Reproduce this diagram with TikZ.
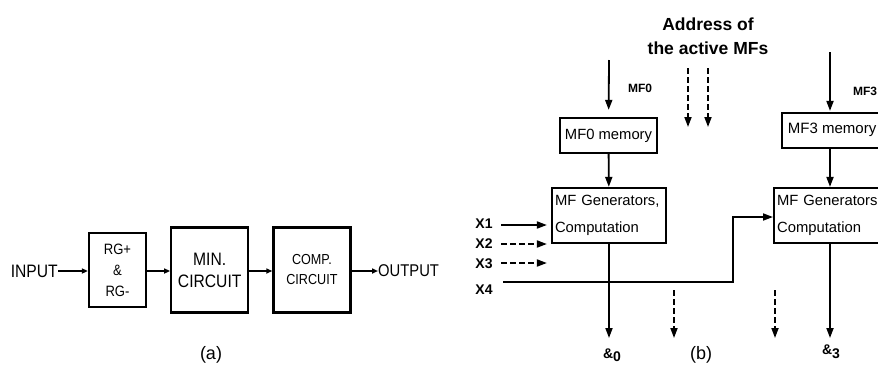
\documentclass[tikz,border=0pt]{standalone}
\usepackage{fontspec}
\setmainfont{Liberation Sans}
\newfontfamily\narrowsf[FakeStretch=0.87]{Liberation Sans}
\usetikzlibrary{arrows.meta,positioning}

\begin{document}
\begin{tikzpicture}[
    x=1pt, y=-1pt,
    node distance=23pt,
    blk/.style={draw, line width=2.2pt, align=center, inner sep=0pt},
    arr/.style={-{Triangle[length=6pt,width=5pt]}, line width=1.8pt},
    bigarr/.style={-{Triangle[length=10pt,width=7pt]}, line width=1.8pt},
    dasharr/.style={bigarr, dashed, dash pattern=on 6pt off 3pt},
    lbl/.style={font=\fontsize{12}{14}\selectfont\bfseries, inner sep=0pt},
    xlbl/.style={font=\fontsize{14}{15}\selectfont\bfseries, inner sep=0pt},
    gen/.style={blk, align=left, text width=108pt, inner xsep=3pt,
      minimum height=55pt, font=\fontsize{14.8}{27}\selectfont}
  ]
    \useasboundingbox (0,0) rectangle (878,381);
    \clip (0,0) rectangle (878,381);

    % (a)
    \node[inner sep=0pt, anchor=east, font=\fontsize{18}{18}\narrowsf] (input) at (58,271) {INPUT};
    \node[blk, minimum width=57pt, minimum height=74pt, font=\fontsize{15}{21}\narrowsf]
      (rg) at (117.5,270) {RG+\\\&\\RG-};
    \node[blk, minimum width=77pt, minimum height=85pt, font=\fontsize{18}{22}\narrowsf,
      right=of rg] (mincirc) {MIN.\\CIRCUIT};
    \node[blk, minimum width=77pt, minimum height=85pt, font=\fontsize{14.5}{20}\narrowsf,
      right=of mincirc] (compcirc) {COMP.\\CIRCUIT};
    \node[inner sep=0pt, anchor=west, font=\fontsize{17}{18}\narrowsf] (output) at (378,271) {OUTPUT};
    \node[font=\fontsize{18}{20}\selectfont] (capa) at (211,355) {(a)};

    \draw[arr] (input) -- (rg.west |- input);
    \draw[arr] (rg.east |- input) -- (mincirc.west |- input);
    \draw[arr] (mincirc.east |- input) -- (compcirc.west |- input);
    \draw[arr] (compcirc.east |- input) -- (output);

    % (b)
    \node[font=\fontsize{17.5}{24}\selectfont\bfseries, align=center] (addr) at (708,36)
      {Address of\\the active MFs};

    \node[blk, minimum width=97pt, minimum height=35pt, font=\fontsize{14.8}{16}\selectfont]
      (mem0) at (608.5,135.5) {MF0 memory};
    \node[gen] (gen0) at (609,215.5) {MF Generators,\\Computation};
    \node[blk, anchor=west, minimum width=100pt, minimum height=35pt, inner xsep=4pt,
      font=\fontsize{15}{16}\selectfont] (mem3) at (781,130.5) {MF3 memory\strut};
    \node[gen, anchor=west, text width=120pt, inner xsep=3pt]
      (gen3) at (773,215.5) {MF Generators\\Computation};

    \coordinate (in0) at (609,60);
    \coordinate (in3) at (830,52);
    \coordinate (ad1) at (688,68);
    \coordinate (ad2) at (708,68);
    \node[lbl] (mf0) at (640,88) {MF0};
    \node[lbl] (mf3) at (865,91) {MF3};

    \draw[bigarr, shorten >=7pt] (in0) -- (mem0);
    \draw[bigarr, shorten >=1pt] (in3) -- (in3 |- mem3.north);
    \draw[dasharr] (ad1) -- ++(0,59);
    \draw[dasharr] (ad2) -- ++(0,59);
    \draw[bigarr] (mem0) -- (gen0);
    \draw[bigarr] (in3 |- mem3.south) -- (in3 |- gen3.north);

    \node[xlbl] (x1) at (484,224) {X1};
    \node[xlbl] (x2) at (484,244) {X2};
    \node[xlbl] (x3) at (484,264) {X3};
    \node[xlbl] (x4) at (484,290) {X4};
    \coordinate (bend) at (733,282);

    \draw[bigarr, shorten >=4pt] (501,225) -- (gen0.west |- 0,225);
    \draw[dasharr, shorten >=4pt] (501,244) -- (gen0.west |- 0,244);
    \draw[dasharr, shorten >=4pt] (501,263) -- (gen0.west |- 0,263);
    \draw[bigarr] (503,282) -- (bend) -- (bend |- 0,217) -- (gen3.west |- 0,217);

    \node[font=\fontsize{14}{16}\selectfont\bfseries] (d0) at (612,355) {\&\raisebox{-3pt}{0}};
    \node[font=\fontsize{14}{16}\selectfont\bfseries] (d3) at (831,352) {\&\raisebox{-4pt}{3}};
    \node[font=\fontsize{18}{20}\selectfont] (capb) at (701,355) {(b)};
    \coordinate (dn1) at (674,290);
    \coordinate (dn2) at (775,290);

    \draw[bigarr] (gen0.south -| in0) -- (in0 |- 0,338);
    \draw[bigarr] (gen3.south -| in3) -- (in3 |- 0,338);
    \draw[dasharr] (dn1) -- ++(0,48);
    \draw[dasharr] (dn2) -- ++(0,48);
\end{tikzpicture}
\end{document}
